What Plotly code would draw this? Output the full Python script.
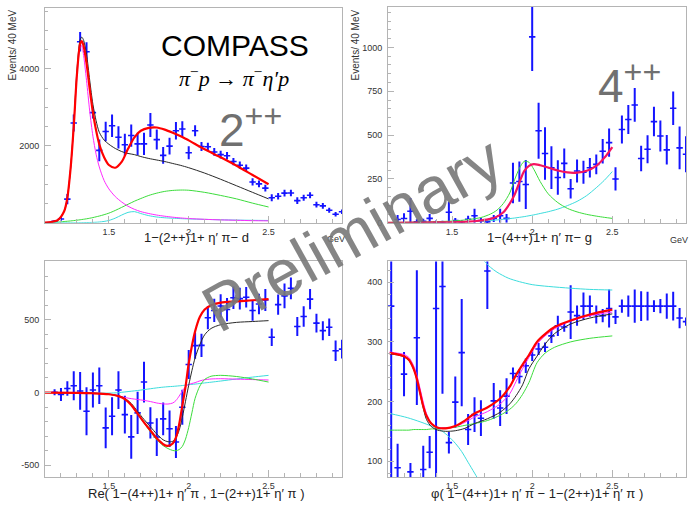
import plotly.graph_objects as go

# ---------------- data ----------------
mass = [1.16, 1.20, 1.24, 1.28, 1.32, 1.36, 1.40, 1.44, 1.48, 1.52, 1.56, 1.60,
        1.64, 1.68, 1.72, 1.76, 1.80, 1.84, 1.88, 1.92, 1.96, 2.00, 2.04, 2.08,
        2.12, 2.16, 2.20, 2.24, 2.28, 2.32, 2.36, 2.40, 2.44, 2.48, 2.52, 2.56,
        2.60, 2.64, 2.68, 2.72, 2.76, 2.80, 2.84, 2.88, 2.92, 2.96]
mass_phase = [1.12] + mass

int_2pp = [40, 100, 615, 2590, 4700, 4440, 2860, 1880, 2370, 2520, 2220, 2025,
           2265, 2050, 2050, 2540, 2160, 1750, 1990, 2390, 2435, 1820, 2390, 1980,
           1975, 1840, 1770, 1740, 1590, 1495, 1420, 1060, 1010, 900, 650, 690,
           770, 775, 575, 650, 715, 470, 440, 325, 220, 285]
err_2pp = [30, 50, 135, 220, 255, 250, 150, 280, 255, 290, 290, 290,
           290, 290, 290, 310, 260, 215, 220, 230, 200, 170, 145, 115,
           105, 100, 100, 95, 95, 95, 95, 95, 90, 90, 90, 85,
           85, 85, 85, 80, 80, 75, 75, 65, 60, 60]

int_4pp = [19, 24, 66, 5, 8, 25, 3, 2, 60, 12, 5, 20,
           40, 12, 5, 25, 40, 25, 227, 235, 218, 1060, 525, 395,
           314, 258, 339, 194, 295, 288, 314, 333, 408, 457, 250, 532,
           589, 672, 367, 419, 577, 495, 416, 653, 427, 391]
err_4pp = [25, 30, 75, 15, 15, 25, 10, 10, 60, 15, 10, 20,
           40, 15, 10, 20, 40, 25, 115, 115, 140, 195, 160, 150,
           122, 98, 85, 56, 66, 66, 56, 56, 70, 81, 66, 80,
           82, 96, 73, 80, 84, 89, 84, 96, 122, 103]

re_int = [2, -14, 28, 47, 11, -129, 17, 47, -243, -163, 17, -152,
          -305, -140, 72, -209, -306, -181, -249, -340, -101, 193, 322, 324,
          514, 564, 595, 570, 651, 645, 655, 564, 608, 636, 380, 604,
          664, 716, 454, 522, 642, 477, 425, 449, 287, 298]
err_re = [20, 45, 50, 100, 130, 165, 120, 125, 140, 130, 130, 130,
          150, 145, 140, 107, 130, 113, 125, 110, 120, 100, 90, 80,
          80, 80, 80, 80, 77, 75, 70, 70, 70, 75, 60, 70,
          85, 75, 65, 70, 70, 65, 65, 60, 70, 65]

phase = [360, 89, 246, 82, 307, 86, 115, 356, 393, 131, 199, 282, 153,
         178, 172, 419, 201, 189, 209, 247, 242, 260, 278, 288, 291,
         310, 327, 325, 350, 344, 360, 360, 346, 344, 356, 342, 360,
         360, 360, 360, 360, 360, 360, 360, 360, 340, 334]
err_phase = [300, 40, 37, 15, 113, 40, 27, 300, 180, 18, 43, 90, 26,
             29, 30, 64, 30, 30, 30, 10, 12, 12, 10, 10, 8,
             12, 17, 8, 45, 17, 23, 18, 15, 11, 32, 12, 11,
             18, 28, 25, 24, 10, 12, 21, 24, 17, 7]

# fit curves, panel 1 (2++ intensity)
g1 = [1.10, 1.14, 1.18, 1.22, 1.24, 1.26, 1.28, 1.30, 1.32, 1.33, 1.34, 1.36,
      1.38, 1.40, 1.42, 1.44, 1.47, 1.50, 1.54, 1.58, 1.62, 1.66, 1.70, 1.75,
      1.80, 1.85, 1.90, 1.95, 2.00, 2.10, 2.20, 2.30, 2.40, 2.50]
p1_red = [5, 20, 70, 300, 650, 1400, 2500, 3850, 4650, 4720, 4620, 4150,
          3480, 2870, 2400, 2040, 1700, 1500, 1430, 1580, 1920, 2220, 2390, 2465,
          2475, 2420, 2340, 2250, 2140, 1910, 1700, 1480, 1240, 1000]
p1_black = [5, 20, 70, 300, 650, 1400, 2550, 3950, 4750, 4820, 4760, 4380,
            3700, 3080, 2650, 2350, 2150, 2040, 1930, 1850, 1800, 1770, 1720, 1670,
            1630, 1590, 1540, 1490, 1430, 1290, 1130, 960, 790, 620]
p1_mag = [5, 20, 70, 300, 650, 1400, 2500, 3800, 4550, 4600, 4400, 3700,
          2900, 2250, 1780, 1450, 1100, 880, 680, 540, 430, 350, 290, 240,
          200, 170, 145, 125, 110, 90, 75, 65, 55, 50]
p1_green = [0, 8, 18, 32, 40, 48, 57, 67, 78, 84, 90, 103,
            118, 135, 155, 175, 210, 250, 320, 400, 480, 560, 630, 710,
            770, 815, 840, 850, 845, 790, 710, 620, 510, 410]
p1_cyan = [0, 0, 0, 0, 0, 0, 0, 0, 2, 3, 4, 6,
           8, 10, 14, 20, 35, 60, 120, 200, 270, 290, 240, 185,
           150, 130, 118, 108, 100, 88, 78, 70, 64, 60]

# panel 2 (4++ intensity)
g2 = [1.10, 1.30, 1.50, 1.60, 1.68, 1.74, 1.78, 1.82, 1.86, 1.89, 1.92, 1.95,
      1.98, 2.01, 2.05, 2.10, 2.16, 2.22, 2.28, 2.34, 2.40, 2.45, 2.50]
p2_red = [0, 1, 3, 6, 13, 22, 35, 60, 110, 160, 230, 295,
          325, 335, 328, 315, 298, 287, 286, 297, 325, 370, 432]
p2_green = [2, 4, 10, 18, 30, 50, 72, 110, 170, 245, 310, 350,
            345, 305, 235, 165, 115, 82, 62, 48, 38, 31, 25]
p2_cyan = [0, 1, 4, 6, 10, 13, 16, 20, 24, 27, 31, 35,
           40, 45, 53, 63, 78, 98, 122, 155, 200, 242, 292]

# panel 3 (real part of interference)
g3 = [1.10, 1.30, 1.40, 1.50, 1.56, 1.60, 1.64, 1.68, 1.72, 1.76, 1.80, 1.84,
      1.87, 1.90, 1.92, 1.94, 1.96, 1.98, 2.00, 2.02, 2.04, 2.07, 2.10, 2.14,
      2.20, 2.30, 2.40, 2.50]
p3_red = [0, -2, -5, -12, -25, -45, -85, -145, -205, -260, -315, -355,
          -367, -350, -310, -220, -90, 40, 200, 320, 420, 520, 570, 600,
          618, 626, 634, 642]
p3_black = [0, -2, -5, -12, -22, -40, -75, -130, -185, -235, -285, -325,
            -338, -335, -310, -260, -170, -60, 50, 150, 238, 330, 397, 440,
            466, 482, 488, 494]
p3_green = [0, -2, -5, -12, -25, -45, -88, -150, -210, -270, -325, -365,
            -385, -398, -400, -392, -370, -320, -240, -140, -40, 45, 90, 112,
            118, 110, 93, 72]
p3_mag = [0, -2, -4, -10, -22, -34, -42, -48, -54, -62, -72, -78,
          -79, -72, -55, -25, 10, 40, 55, 62, 68, 80, 88, 93,
          95, 92, 89, 86]
p3_cyan = [0, -1, -3, -4, -1, 4, 9, 14, 20, 26, 32, 37,
           40, 42, 44, 46, 48, 51, 54, 56, 58, 62, 66, 71,
           79, 93, 106, 118]

# panel 4 (relative phase)
g4 = [1.11, 1.16, 1.20, 1.23, 1.26, 1.28, 1.30, 1.32, 1.34, 1.37, 1.41, 1.46,
      1.52, 1.58, 1.64, 1.72, 1.80, 1.86, 1.90, 1.94, 1.98, 2.03, 2.08, 2.14,
      2.24, 2.36, 2.50]
p4_red = [281, 279, 276, 270, 255, 238, 215, 192, 176, 163, 156, 155,
          159, 168, 180, 190, 205, 225, 245, 262, 278, 300, 313, 325,
          336, 346, 354]
p4_black = [280, 278, 275, 269, 254, 237, 213, 189, 170, 158, 152, 150,
            151, 155, 163, 171, 182, 196, 210, 228, 255, 276, 296, 314,
            330, 340, 347]
p4_mag = [283, 281, 279, 274, 260, 244, 222, 199, 180, 164, 157, 156,
          158, 165, 174, 183, 196, 213, 234, 255, 274, 296, 310, 322,
          335, 344, 350]
p4_green = [152, 152, 152, 152, 153, 153, 153, 153, 153, 154, 154, 156,
            157, 160, 163, 168, 177, 187, 197, 212, 232, 265, 281, 291,
            300, 306, 310]
g4_cyan_lo = [1.11, 1.22, 1.30, 1.35, 1.40, 1.44, 1.48, 1.52, 1.56, 1.60, 1.64, 1.68, 1.72]
p4_cyan_lo = [180, 173, 166, 161, 156, 150, 141, 130, 116, 98, 80, 62, 45]
g4_cyan_hi = [1.68, 1.70, 1.74, 1.78, 1.85, 1.92, 2.00, 2.10, 2.24, 2.36, 2.50]
p4_cyan_hi = [448, 436, 425, 417, 407, 401, 396, 393, 390, 388, 387]

# ---------------- figure ----------------
W, H = 690, 506


def fx(px):
    return px / W


def fy(py):
    return 1 - py / H


BLUE = "rgb(20,20,255)"
RED = "rgb(255,0,0)"
BLACK = "rgb(40,40,40)"
MAG = "rgb(255,40,255)"
GREEN = "rgb(60,220,60)"
CYAN = "rgb(60,220,220)"
AX = "#b4b4b4"
FONT = "Liberation Sans"

fig = go.Figure()


def add_data(xs, ys, es, n):
    fig.add_trace(go.Scatter(
        x=xs, y=ys, mode="markers", marker=dict(size=2, color=BLUE),
        error_y=dict(type="data", array=es, color=BLUE, thickness=2, width=0),
        error_x=dict(type="constant", value=0.02, color=BLUE, thickness=1.6, width=0),
        xaxis="x" + n, yaxis="y" + n, showlegend=False, hoverinfo="skip"))


def add_curve(xs, ys, color, width, n):
    fig.add_trace(go.Scatter(
        x=xs, y=ys, mode="lines",
        line=dict(color=color, width=width, shape="spline", smoothing=0.8),
        xaxis="x" + n, yaxis="y" + n, showlegend=False, hoverinfo="skip"))


add_data(mass, int_2pp, err_2pp, "")
add_curve(g1, p1_green, GREEN, 1, "")
add_curve(g1, p1_cyan, CYAN, 1, "")
add_curve(g1, p1_mag, MAG, 1, "")
add_curve(g1, p1_black, BLACK, 1, "")
add_curve(g1, p1_red, RED, 2.2, "")

add_data(mass, int_4pp, err_4pp, "2")
add_curve(g2, p2_cyan, CYAN, 1, "2")
add_curve(g2, p2_green, GREEN, 1, "2")
add_curve(g2, p2_red, "rgb(245,20,95)", 2.2, "2")

add_data(mass, re_int, err_re, "3")
add_curve(g3, p3_cyan, CYAN, 1, "3")
add_curve(g3, p3_mag, MAG, 1, "3")
add_curve(g3, p3_green, GREEN, 1, "3")
add_curve(g3, p3_black, BLACK, 1, "3")
add_curve(g3, p3_red, RED, 2.2, "3")

add_data(mass_phase, phase, err_phase, "4")
add_curve(g4_cyan_lo, p4_cyan_lo, CYAN, 1, "4")
add_curve(g4_cyan_hi, p4_cyan_hi, CYAN, 1, "4")
add_curve(g4, p4_green, GREEN, 1, "4")
add_curve(g4, p4_black, BLACK, 1, "4")
add_curve(g4, p4_mag, MAG, 1, "4")
add_curve(g4, p4_red, RED, 2.2, "4")


def xaxis(dom, anchor):
    return dict(domain=dom, anchor=anchor, range=[1.1, 2.96],
                tickmode="array", tickvals=[1.5, 2.0, 2.5], ticktext=["1.5", "2", "2.5"],
                ticks="inside", ticklen=7, tickcolor=AX, tickwidth=1,
                minor=dict(tickmode="linear", tick0=1.1, dtick=0.1, ticks="inside",
                           ticklen=4, tickcolor=AX, showgrid=False),
                showline=True, linecolor=AX, linewidth=1, mirror=True,
                showgrid=False, zeroline=False,
                tickfont=dict(family=FONT, size=9, color="#333"))


def yaxis(dom, anchor, rng, vals, texts, minor_dt, tick0):
    return dict(domain=dom, anchor=anchor, range=rng,
                tickmode="array", tickvals=vals, ticktext=texts,
                ticks="inside", ticklen=6, tickcolor=AX, tickwidth=1,
                minor=dict(tickmode="linear", tick0=tick0, dtick=minor_dt, ticks="inside",
                           ticklen=3, tickcolor=AX, showgrid=False),
                showline=True, linecolor=AX, linewidth=1, mirror=True,
                showgrid=False, zeroline=False, ticklabelstandoff=3,
                tickfont=dict(family=FONT, size=9, color="#333"))


fig.update_layout(
    width=W, height=H, margin=dict(l=0, r=0, t=0, b=0), autosize=False,
    paper_bgcolor="white", plot_bgcolor="white", showlegend=False,
    xaxis=xaxis([fx(45), fx(342)], "y"),
    yaxis=yaxis([fy(225), fy(8)], "x", [0, 5580], [2000, 4000], ["2000", "4000"], 500, 0),
    xaxis2=xaxis([fx(388), fx(686)], "y2"),
    yaxis2=yaxis([fy(225), fy(7)], "x2", [0, 1231], [0, 250, 500, 750, 1000],
                 ["0", "250", "500", "750", "1000"], 50, 0),
    xaxis3=xaxis([fx(45), fx(342)], "y3"),
    yaxis3=yaxis([fy(482), fy(264)], "x3", [-582, 901], [-500, 0, 500],
                 ["-500", "0", "500"], 100, 0),
    xaxis4=xaxis([fx(388), fx(686)], "y4"),
    yaxis4=yaxis([fy(482), fy(264)], "x4", [73, 435], [100, 200, 300, 400],
                 ["100", "200", "300", "400"], 20, 0),
)

ann = []


def text(x, y, t, size, color="#222", family=FONT, angle=0, xanchor="center", yanchor="middle"):
    ann.append(dict(x=fx(x), y=fy(y), xref="paper", yref="paper", text=t, showarrow=False,
                    font=dict(family=family, size=size, color=color), textangle=angle,
                    xanchor=xanchor, yanchor=yanchor))


text(12, 8, "Events/ 40 MeV", 10, "#333", angle=-90, yanchor="top")
text(355, 7, "Events/ 40 MeV", 10, "#333", angle=-90, yanchor="top")
text(196, 240, "1−(2++)1+ η′ π− d", 13)
text(539, 240, "1−(4++)1+ η′ π− g", 13)
text(336, 241, "GeV", 9, "#333")
text(679, 242, "GeV", 9, "#333")
text(196, 498, "Re( 1−(4++)1+ η′ π , 1−(2++)1+ η′ π )", 13)
text(537, 498, "φ( 1−(4++)1+ η′ π − 1−(2++)1+ η′ π )", 13)
text(235, 46, "COMPASS", 30, "black")
text(234, 78, "<i>π</i><sup>−</sup><i>p</i> → <i>π</i><sup>−</sup><i>η′p</i>", 22, "black",
     family="Liberation Serif")
text(251, 128, "2<sup>++</sup>", 46, "#707070")
text(629, 84, "4<sup>++</sup>", 46, "#707070")
text(352, 236, "Preliminary", 66, "rgba(120,120,120,0.9)", angle=-29)

fig.update_layout(annotations=ann)

fig.write_html("out.html", config={"displayModeBar": False},
               post_script="document.body.style.margin='0px';document.body.style.overflow='hidden';")
